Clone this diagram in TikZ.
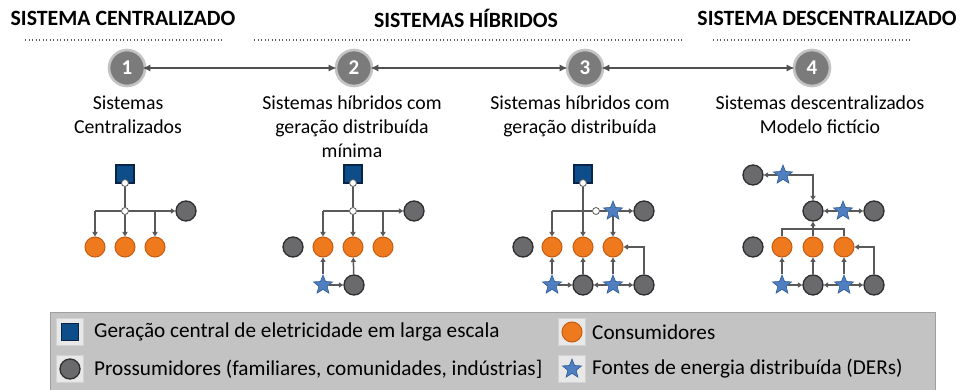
\documentclass[tikz,border=0pt]{standalone}
\usepackage{fontspec}
\setmainfont{Carlito}
\usetikzlibrary{shapes.geometric,arrows.meta}
\definecolor{lnc}{HTML}{595959}
\definecolor{orf}{HTML}{EF7A1E}
\definecolor{ord}{HTML}{C45C12}
\definecolor{gyf}{HTML}{6A6A6C}
\definecolor{gyd}{HTML}{2E2E30}
\definecolor{sqf}{HTML}{0D4D8A}
\definecolor{sqd}{HTML}{0A2448}
\definecolor{stf}{HTML}{4F7FC0}
\definecolor{std}{HTML}{2C5A96}
\definecolor{numf}{HTML}{7B7B7B}
\definecolor{numd}{HTML}{C4C4C4}
\definecolor{legf}{HTML}{C3C3C3}
\tikzset{
  cons/.style={circle,fill=orf,draw=ord,line width=1pt,minimum size=20pt,inner sep=0pt},
  pros/.style={circle,fill=gyf,draw=gyd,line width=1.3pt,minimum size=20pt,inner sep=0pt},
  cent/.style={rectangle,fill=sqf,draw=sqd,line width=1.3pt,minimum size=18pt,inner sep=0pt},
  der/.style={star,star points=5,star point ratio=2.3,fill=stf,draw=std,line width=0.6pt,minimum size=20pt,inner sep=0pt},
  jn/.style={circle,fill=white,draw=lnc,line width=0.8pt,minimum size=7pt,inner sep=0pt},
  num/.style={circle,fill=numf,draw=numd,line width=2.6pt,minimum size=36pt,inner sep=0pt,text=white,font=\fontsize{21}{21}\selectfont\bfseries},
  ln/.style={draw=lnc,line width=1.5pt},
  arr/.style={ln,-{Triangle[length=4.5pt,width=5pt]}},
  big/.style={draw=lnc!90!black,line width=1.8pt,{Latex[length=8pt,width=7pt]}-{Latex[length=8pt,width=7pt]}},
  dotl/.style={draw=lnc,line width=1.3pt,dash pattern=on 1.3pt off 2.2pt},
  hdr/.style={font=\fontsize{21.8}{22}\selectfont\bfseries,text=black,inner sep=0pt},
  lbl/.style={font=\fontsize{19.8}{24}\selectfont,align=center,anchor=north,inner sep=0pt},
  legt/.style={font=\fontsize{21.2}{22}\selectfont,anchor=west,inner sep=0pt},
  legbg/.style={rectangle,fill=gray!18,draw=gray!35,line width=0.6pt,minimum size=27pt,inner sep=0pt}
}
\begin{document}
\begin{tikzpicture}[x=1pt,y=-1pt]
\useasboundingbox (0,0) rectangle (967,390);
\fill[white] (0,0) rectangle (967,390);
% headers
\node[hdr] (h1) at (123,18) {SISTEMA CENTRALIZADO};
\node[hdr] (h2) at (466,18) {SISTEMAS HÍBRIDOS};
\node[hdr] (h3) at (827,18) {SISTEMA DESCENTRALIZADO};
\coordinate (d1a) at (25,40); \coordinate (d1b) at (222,40);
\coordinate (d2a) at (254,40); \coordinate (d2b) at (683,40);
\coordinate (d3a) at (713,40); \coordinate (d3b) at (910,40);
\draw[dotl] (d1a) -- (d1b);
\draw[dotl] (d2a) -- (d2b);
\draw[dotl] (d3a) -- (d3b);
% numbered circles
\node[num] (n1) at (127,68) {1};
\node[num] (n2) at (354,68) {2};
\node[num] (n3) at (585,68) {3};
\node[num] (n4) at (812,68) {4};
\draw[big] ([xshift=-4pt]n1.east) -- ([xshift=2pt]n2.west);
\draw[big] ([xshift=-3pt]n2.east) -- ([xshift=2pt]n3.west);
\draw[big] ([xshift=-3pt]n3.east) -- ([xshift=2pt]n4.west);
% labels
\node[lbl] (l1) at (128,96) {Sistemas\\Centralizados};
\node[lbl] (l2) at (352,96) {Sistemas híbridos com\\geração distribuída\\mínima};
\node[lbl] (l3) at (580,96) {Sistemas híbridos com\\geração distribuída};
\node[lbl] (l4) at (820,96) {Sistemas descentralizados\\Modelo fictício};

% ---------- panel 1
\node[cent] (c1) at (125,174) {};
\node[jn] (j1a) at (125,183) {};
\node[jn] (j1b) at (125,211) {};
\node[pros] (p1) at (186,211) {};
\node[cons] (o11) at (95,247) {};
\node[cons] (o12) at (125,247) {};
\node[cons] (o13) at (155,247) {};
\coordinate (b1l) at (95,211); \coordinate (b1r) at (155,211);
\draw[ln] (j1a) -- (j1b);
\draw[ln] (b1l) -- (j1b);
\draw[arr] (j1b) -- (p1);
\draw[arr] (b1l) -- (o11);
\draw[arr] (j1b) -- (o12);
\draw[arr] (b1r) -- (o13);

% ---------- panel 2
\node[cent] (c2) at (353,174) {};
\node[jn] (j2a) at (353,183) {};
\node[jn] (j2b) at (353,211) {};
\node[pros] (p2) at (414,211) {};
\node[cons] (o21) at (323,247) {};
\node[cons] (o22) at (353,247) {};
\node[cons] (o23) at (383,247) {};
\node[pros] (p2l) at (293,247) {};
\node[der] (s21) at (323,285) {};
\node[pros] (p2b) at (354,285) {};
\coordinate (b2l) at (323,211); \coordinate (b2r) at (383,211);
\draw[ln] (j2a) -- (j2b);
\draw[ln] (b2l) -- (j2b);
\draw[arr] (j2b) -- (p2);
\draw[arr] (b2l) -- (o21);
\draw[arr] (j2b) -- (o22);
\draw[arr] (b2r) -- (o23);
\draw[arr] (s21) -- (o21);
\draw[arr] (s21) -- (p2b);
\draw[arr] (p2b) -- (o22);

% ---------- panel 3
\node[cent] (c3) at (583,174) {};
\node[jn] (j3a) at (583,183) {};
\node[jn] (j3b) at (596,211) {};
\node[der] (s3t) at (613,211) {};
\node[pros] (p3) at (644,211) {};
\node[cons] (o31) at (552,247) {};
\node[cons] (o32) at (583,247) {};
\node[cons] (o33) at (613,247) {};
\node[pros] (p3l) at (523,247) {};
\node[der] (s31) at (552,285) {};
\node[pros] (p31) at (583,285) {};
\node[der] (s32) at (613,285) {};
\node[pros] (p32) at (644,285) {};
\coordinate (b3l) at (552,211);
\draw[ln] (b3l) -- (j3b);
\draw[ln] (j3b) -- (s3t);
\draw[arr] (j3a) -- (o32);
\draw[arr] (b3l) -- (o31);
\draw[arr] (s3t) -- (p3);
\draw[arr] (s3t) -- (o33);
\draw[arr] (s31) -- (o31);
\draw[arr] (s31) -- (p31);
\draw[arr] (p31) -- (o32);
\draw[arr] (s32) -- (p31);
\draw[arr] (s32) -- (o33);
\draw[arr] (s32) -- (p32);
\draw[arr] (p32) |- (o33);

% ---------- panel 4
\node[pros] (p4a) at (753,175) {};
\node[der] (s4a) at (783,175) {};
\node[pros] (p4c) at (813,211) {};
\node[der] (s4b) at (843,211) {};
\node[pros] (p4r) at (874,211) {};
\node[cons] (o41) at (782,247) {};
\node[cons] (o42) at (813,247) {};
\node[cons] (o43) at (844,247) {};
\node[pros] (p4l) at (753,247) {};
\node[der] (s41) at (782,285) {};
\node[pros] (p41) at (813,285) {};
\node[der] (s42) at (844,285) {};
\node[pros] (p42) at (874,285) {};
\coordinate (b4l) at (782,229); \coordinate (b4m) at (813,229); \coordinate (b4r) at (844,229);
\draw[arr] (s4a) -- (p4a);
\draw[arr] (s4a) -| (p4c);
\draw[arr] (s4b) -- (p4c);
\draw[arr] (s4b) -- (p4r);
\draw[ln] (o41) -- (b4l) -- (b4r) -- (o43);
\draw[ln] (o42) -- (b4m);
\draw[arr] (b4m) -- (p4c);
\draw[arr] (s41) -- (o41);
\draw[arr] (s41) -- (p41);
\draw[arr] (p41) -- (o42);
\draw[arr] (s42) -- (p41);
\draw[arr] (s42) -- (o43);
\draw[arr] (s42) -- (p42);
\draw[arr] (p42) |- (o43);

% ---------- legend
\path[fill=legf,draw=gray!75,line width=0.8pt] (50,312) rectangle (935,394);
\node[legbg] (lb1) at (70,332) {};
\node[cent,minimum size=17pt] (lc1) at (70,332) {};
\node[legt] (lt1) at (94,332) {Geração central de eletricidade em larga escala};
\node[legbg] (lb2) at (70,369) {};
\node[pros] (lc2) at (70,369) {};
\node[legt] (lt2) at (94,369) {Prossumidores (familiares, comunidades, indústrias]};
\node[legbg] (lb3) at (572,332) {};
\node[cons] (lc3) at (572,332) {};
\node[legt] (lt3) at (592,332) {Consumidores};
\node[legbg] (lb4) at (572,369) {};
\node[der] (lc4) at (572,369) {};
\node[legt] (lt4) at (592,369) {Fontes de energia distribuída (DERs)};
\end{tikzpicture}
\end{document}
